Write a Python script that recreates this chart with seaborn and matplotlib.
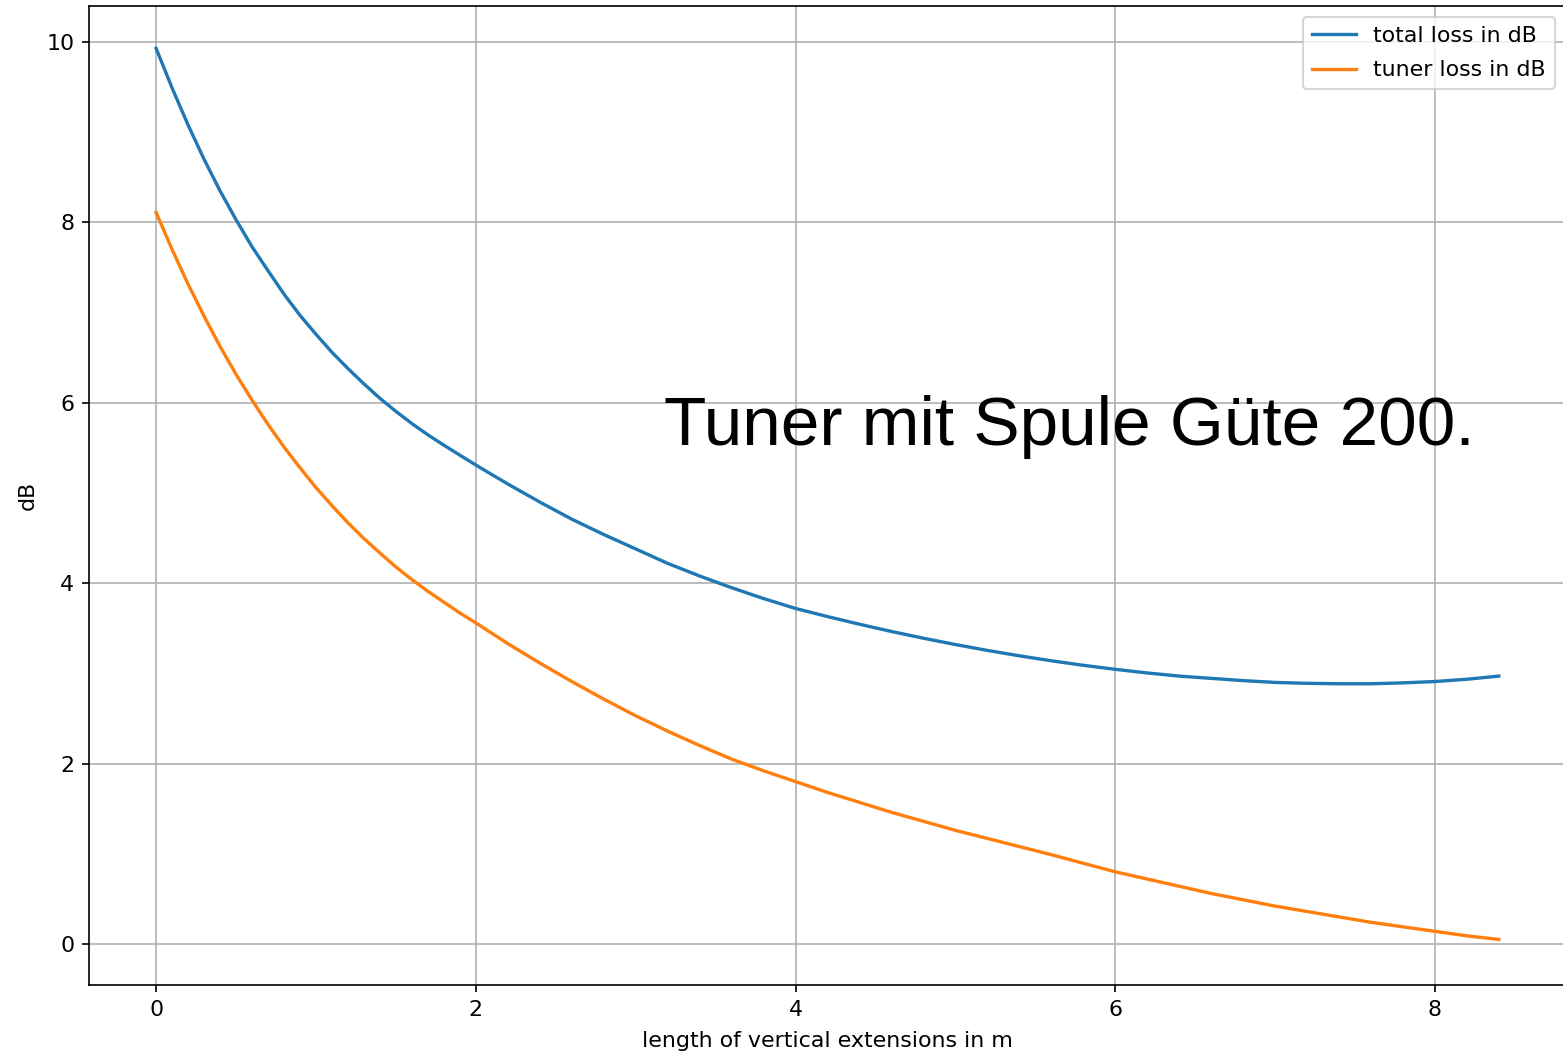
import numpy as np
import pandas as pd
import matplotlib
matplotlib.use("Agg")
import matplotlib.pyplot as plt
import seaborn as sns

# length of vertical extensions in m
length_m = [0.0, 0.1, 0.2, 0.3, 0.4, 0.5, 0.6, 0.7, 0.8, 0.9, 1.0,
            1.1, 1.2, 1.3, 1.4, 1.5, 1.6, 1.7, 1.8, 1.9, 2.0,
            2.2, 2.4, 2.6, 2.8, 3.0, 3.2, 3.4, 3.6, 3.8, 4.0,
            4.2, 4.4, 4.6, 4.8, 5.0, 5.2, 5.4, 5.6, 5.8, 6.0,
            6.2, 6.4, 6.6, 6.8, 7.0, 7.2, 7.4, 7.6, 7.8, 8.0,
            8.2, 8.4]

total_loss_db = [9.93, 9.49, 9.08, 8.70, 8.35, 8.03, 7.73, 7.465, 7.205, 6.97, 6.76,
                 6.56, 6.38, 6.21, 6.05, 5.905, 5.77, 5.645, 5.53, 5.42, 5.31,
                 5.10, 4.90, 4.71, 4.54, 4.38, 4.22, 4.08, 3.95, 3.83, 3.72,
                 3.63, 3.545, 3.465, 3.39, 3.32, 3.255, 3.195, 3.14, 3.09, 3.045,
                 3.005, 2.97, 2.945, 2.92, 2.90, 2.89, 2.885, 2.885, 2.895, 2.91,
                 2.935, 2.97]

tuner_loss_db = [8.11, 7.70, 7.315, 6.96, 6.625, 6.315, 6.03, 5.76, 5.51, 5.28, 5.06,
                 4.86, 4.67, 4.495, 4.335, 4.18, 4.04, 3.91, 3.79, 3.67, 3.56,
                 3.33, 3.115, 2.91, 2.715, 2.53, 2.36, 2.20, 2.05, 1.92, 1.80,
                 1.68, 1.57, 1.46, 1.36, 1.26, 1.17, 1.08, 0.99, 0.895, 0.80,
                 0.72, 0.64, 0.56, 0.49, 0.42, 0.36, 0.30, 0.24, 0.19, 0.14,
                 0.09, 0.05]

series_labels = ["total loss in dB", "tuner loss in dB"]
series_colors = ["#1f77b4", "#ff7f0e"]
annotation = "Tuner mit Spule Güte 200."

df = pd.DataFrame({"x": length_m, "total": total_loss_db, "tuner": tuner_loss_db})

fig = plt.figure(figsize=(1563 / 150, 1052 / 150), dpi=150)
ax = fig.add_axes([89 / 1563, 1 - 985 / 1052, (1566 - 89) / 1563, (985 - 6) / 1052])

sns.lineplot(data=df, x="x", y="total", ax=ax, color=series_colors[0],
             label=series_labels[0], linewidth=1.6)
sns.lineplot(data=df, x="x", y="tuner", ax=ax, color=series_colors[1],
             label=series_labels[1], linewidth=1.6)

ax.set_ylim(-0.455, 10.40)
ax.set_xlim(-0.42, 8.82)
ax.grid(True, color="#b0b0b0", linewidth=0.8)
ax.set_axisbelow(True)
ax.spines["right"].set_visible(False)
ax.set_xticks([0, 2, 4, 6, 8])
ax.set_yticks([0, 2, 4, 6, 8, 10])
ax.tick_params(labelsize=10.6)
ax.set_xlabel("length of vertical extensions in m", fontsize=10.6, labelpad=5.5)
ax.set_ylabel("dB", fontsize=10.6)
ax.legend(loc="upper right", fontsize=10.6, labelspacing=0.65)

ax.text(3.18, 5.53, annotation, fontsize=33.3, family="Liberation Sans",
        va="baseline", ha="left", color="black")

fig.savefig("out.png", dpi=150)
